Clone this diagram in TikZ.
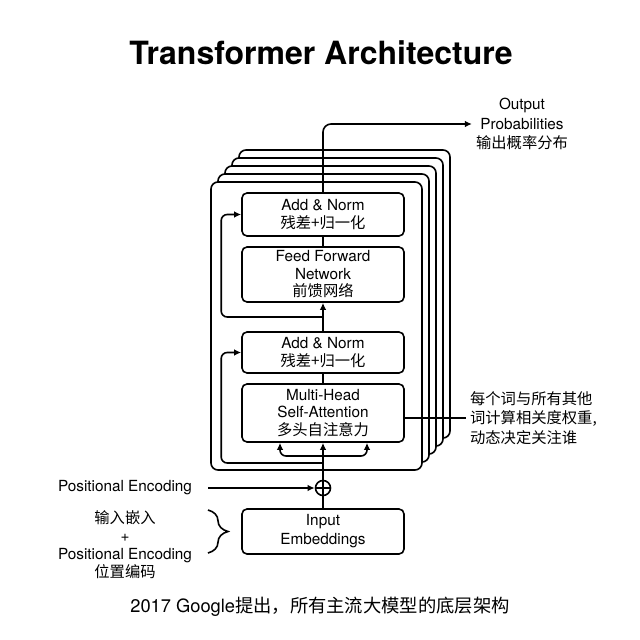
\documentclass[tikz,border=0pt]{standalone}
\usepackage{fontspec}
\setmainfont{TeX Gyre Heros}
\newfontfamily\cjk{Noto Sans CJK SC}
\usepackage{tikz}
\usetikzlibrary{arrows,arrows.meta,positioning,decorations.pathreplacing,calc}

\begin{document}
\begin{tikzpicture}[
			x = 1pt, y = -1pt,
			line width = 1.6pt,
			>={Latex[length=7pt,width=6.5pt]},
			every node/.style = {font=\fontsize{15.3}{17.5}\selectfont, align=center},
			blk/.style = {draw, rounded corners=5pt, minimum width=162pt, inner sep=2pt},
			layer/.style = {draw, fill=white, rounded corners=7pt},
			lbl/.style = {font=\fontsize{15.3}{19.5}\selectfont},
			sum/.style = {draw, circle, minimum size=15pt, inner sep=0pt,
				path picture={\draw[line width=1.2pt]
					(path picture bounding box.north) -- (path picture bounding box.south)
					(path picture bounding box.west) -- (path picture bounding box.east);}}]
			\useasboundingbox (0,0) rectangle (640,640);

			\node[font=\fontsize{32}{36}\selectfont\bfseries] (title) at (321,53) {Transformer Architecture};

			% stacked layers, back to front
			\foreach \i in {4,3,2,1,0}
				\draw[layer] (211+7*\i,182-8*\i) rectangle (422+7*\i,470-8*\i);

			\node[blk, minimum height=43pt] (an2) at (323,214.5) {Add \& Norm\\{\cjk 残差+归一化}};
			\node[blk, minimum height=55pt] (ffn) at (323,274.5) {Feed Forward\\Network\\{\cjk 前馈网络}};
			\node[blk, minimum height=41pt] (an1) at (323,352.5) {Add \& Norm\\{\cjk 残差+归一化}};
			\node[blk, minimum height=58pt] (mha) at (323,413) {Multi-Head\\Self-Attention\\{\cjk 多头自注意力}};
			\node[blk, minimum height=45pt, font=\fontsize{15.3}{19}\selectfont] (emb) at (323,531.5) {Input\\Embeddings};
			\node[sum] (add) at (323,488) {};

			\node (pe) at (125,488) {Positional Encoding};
			\node[font=\fontsize{15.3}{18}\selectfont] (mix) at (125,545) {{\cjk 输入嵌入}\\+\\Positional Encoding\\{\cjk 位置编码}};
			\node[lbl] (out) at (522,124) {Output\\Probabilities\\{\cjk 输出概率分布}};
			\node[lbl, align=left, anchor=west] (note) at (466,418) {{\cjk 每个词与所有其他}\\{\cjk 词计算相关度权重,}\\{\cjk 动态决定关注谁}};
			\node[font=\fontsize{18.3}{20}\selectfont] (foot) at (320,607) {2017 Google{\cjk 提出，所有主流大模型的底层架构}};

			\coordinate (r1) at (323,463);
			\coordinate (r2) at (323,317);
			\coordinate (sp) at (323,456);

			% main path
			\draw (emb) -- (add);
			\draw[->] (add) -- (mha);
			\draw (mha) -- (an1);
			\draw[->] (an1) -- (ffn);
			\draw (ffn) -- (an2);
			\draw[->,rounded corners=8pt] (an2.north) |- (out.west);
			\draw[->] ([xshift=12pt]pe.east) -- (add);

			% q, k, v
			\draw[->,rounded corners=6pt] (sp) -| ([xshift=-43pt]mha.south);
			\draw[->,rounded corners=6pt] (sp) -| ([xshift=44pt]mha.south);

			% residuals
			\draw[->,rounded corners=6pt] (r1) -| ([xshift=-20pt]an1.west) -- (an1.west);
			\draw[->,rounded corners=6pt] (r2) -| ([xshift=-20pt]an2.west) -- (an2.west);

			\draw (mha.east |- note.west) -- (note.west);
			\draw[decorate,decoration={brace,amplitude=20pt}] (208,510) -- (208,553);

		\end{tikzpicture}
\end{document}
